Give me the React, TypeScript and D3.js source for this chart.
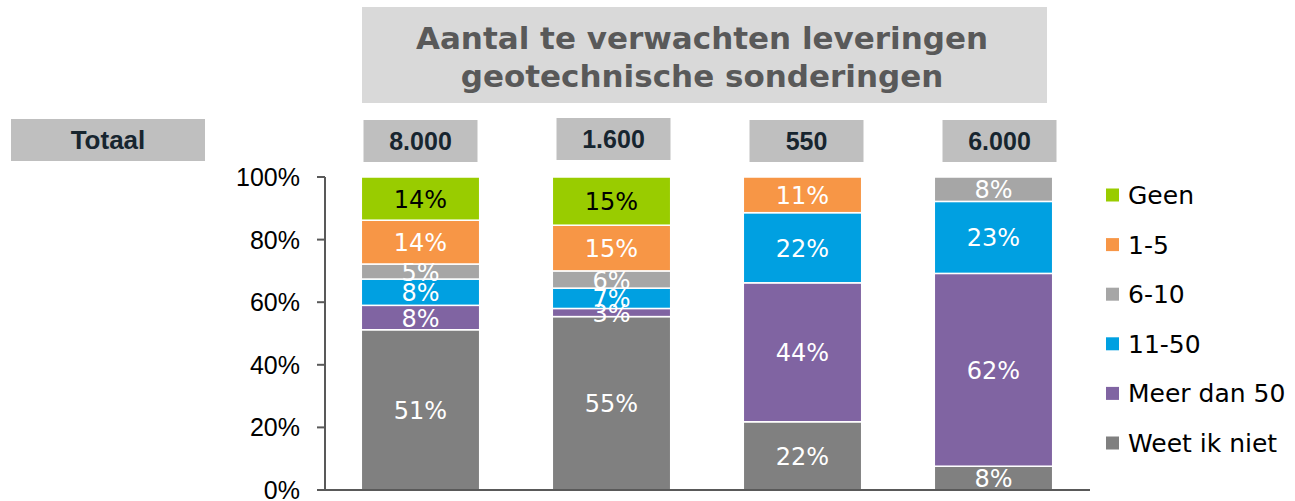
import React, { useRef, useEffect } from 'react';
import * as d3 from 'd3';

const totals = ['8.000', '1.600', '550', '6.000'];
const seriesNames = ['Weet ik niet', 'Meer dan 50', '11-50', '6-10', '1-5', 'Geen'];
const seriesColors = ['#808080', '#8064a2', '#00a0e1', '#a6a6a6', '#f79646', '#99cc00'];

// share per bar, bottom to top (percent)
const weetIkNiet = [51.2, 55.4, 21.8, 7.6];
const meerDan50 = [7.8, 2.6, 44.4, 61.6];
const elfTot50 = [8.4, 6.5, 22.4, 23.0];
const zesTot10 = [4.8, 5.5, 0, 7.8];
const eenTot5 = [14.0, 14.6, 11.4, 0];
const geen = [13.8, 15.4, 0, 0];

const yTicks = [0, 0.2, 0.4, 0.6, 0.8, 1];

const W = 1295;
const H = 501;

export default function App() {
  const svgRef = useRef(null);

  useEffect(() => {
    const svg = d3.select(svgRef.current);
    svg.selectAll('*').remove();

    const cols = [weetIkNiet, meerDan50, elfTot50, zesTot10, eenTot5, geen];
    const rows = totals.map((t, i) => {
      const r: any = { total: t };
      seriesNames.forEach((s, j) => { r[s] = cols[j][i] / 100; });
      return r;
    });
    const stacked = d3.stack().keys(seriesNames)(rows);

    const x = d3.scaleBand().domain(totals).range([325, 1089]).paddingInner(0.38).paddingOuter(0.19);
    const y = d3.scaleLinear().domain([0, 1]).range([490, 177]);

    // title
    svg.append('rect').attr('x', 362).attr('y', 7).attr('width', 685).attr('height', 96).attr('fill', '#d9d9d9');
    const title = svg.append('text')
      .attr('text-anchor', 'middle')
      .attr('fill', '#595959')
      .style('font-family', '"DejaVu Sans", Verdana, sans-serif')
      .style('font-weight', 'bold')
      .style('font-size', '31px');
    title.append('tspan').attr('x', 702).attr('y', 49).text('Aantal te verwachten leveringen');
    title.append('tspan').attr('x', 702).attr('y', 87).text('geotechnische sonderingen');

    // Totaal box
    svg.append('rect').attr('x', 11).attr('y', 119).attr('width', 194).attr('height', 42).attr('fill', '#bfbfbf');
    svg.append('text').attr('x', 108).attr('y', 149).attr('text-anchor', 'middle')
      .attr('fill', '#17252f')
      .style('font-family', '"Liberation Sans", Arial, sans-serif')
      .style('font-weight', 'bold').style('font-size', '26px')
      .text('Totaal');

    // total boxes above bars
    const tb = svg.append('g').selectAll('g').data(totals).join('g')
      .attr('transform', (d, i) => `translate(${x(d) + x.bandwidth() / 2 + i * 2},${i === 1 ? 118 : 120})`);
    tb.append('rect').attr('x', -57).attr('y', 0).attr('width', 114).attr('height', 42).attr('fill', '#bfbfbf');
    tb.append('text').attr('x', 0).attr('y', 30).attr('text-anchor', 'middle')
      .attr('fill', '#17252f')
      .style('font-family', '"Liberation Sans", Arial, sans-serif')
      .style('font-weight', 'bold').style('font-size', '25px')
      .text(d => d);

    // bars
    const layer = svg.append('g').selectAll('g').data(stacked).join('g')
      .attr('fill', (d, i) => seriesColors[i]);
    layer.selectAll('rect').data(d => d.filter(p => p[1] - p[0] > 0)).join('rect')
      .attr('x', p => x(p.data.total))
      .attr('width', x.bandwidth())
      .attr('y', p => y(p[1]))
      .attr('height', p => y(p[0]) - y(p[1]))
      .attr('stroke', '#fff')
      .attr('stroke-width', 1.5);

    // axes
    const axis = svg.append('g').attr('stroke', '#595959').attr('stroke-width', 2);
    axis.append('line').attr('x1', 325).attr('x2', 325).attr('y1', y(1)).attr('y2', y(0));
    axis.append('line').attr('x1', 317).attr('x2', 1090).attr('y1', y(0)).attr('y2', y(0));
    axis.selectAll('line.tick').data(yTicks).join('line').attr('class', 'tick')
      .attr('x1', 317).attr('x2', 325).attr('y1', d => y(d)).attr('y2', d => y(d));
    svg.append('g').selectAll('text').data(yTicks).join('text')
      .attr('x', 300).attr('y', d => y(d) + 9)
      .attr('text-anchor', 'end')
      .attr('fill', '#000')
      .style('font-family', '"Liberation Sans", Arial, sans-serif')
      .style('font-size', '25px')
      .text(d => d3.format('.0%')(d));

    // data labels
    const lab = svg.append('g').selectAll('g').data(stacked).join('g')
      .attr('fill', (d, i) => (seriesNames[i] === 'Geen' ? '#000' : '#fff'));
    lab.selectAll('text').data(d => d.filter(p => p[1] - p[0] > 0)).join('text')
      .attr('x', p => x(p.data.total) + x.bandwidth() / 2)
      .attr('y', p => (y(p[0]) + y(p[1])) / 2 + 9)
      .attr('text-anchor', 'middle')
      .style('font-family', '"DejaVu Sans", Verdana, sans-serif')
      .style('font-size', '24px')
      .text(p => Math.round((p[1] - p[0]) * 100) + '%');

    // legend, top to bottom
    const legendItems = seriesNames.map((s, i) => ({ name: s, color: seriesColors[i] })).reverse();
    const lg = svg.append('g').selectAll('g').data(legendItems).join('g')
      .attr('transform', (d, i) => `translate(1106,${195 + i * 49.6})`);
    lg.append('rect').attr('x', 0).attr('y', -6.5).attr('width', 13).attr('height', 13).attr('fill', d => d.color);
    lg.append('text').attr('x', 22).attr('y', 9)
      .attr('fill', '#000')
      .style('font-family', '"DejaVu Sans", Verdana, sans-serif')
      .style('font-size', '25px')
      .text(d => d.name);
  }, []);

  return (
    <svg
      ref={svgRef}
      width={W}
      height={H}
      style={{ position: 'absolute', left: 0, top: 0, background: '#fff', display: 'block' }}
    />
  );
}
